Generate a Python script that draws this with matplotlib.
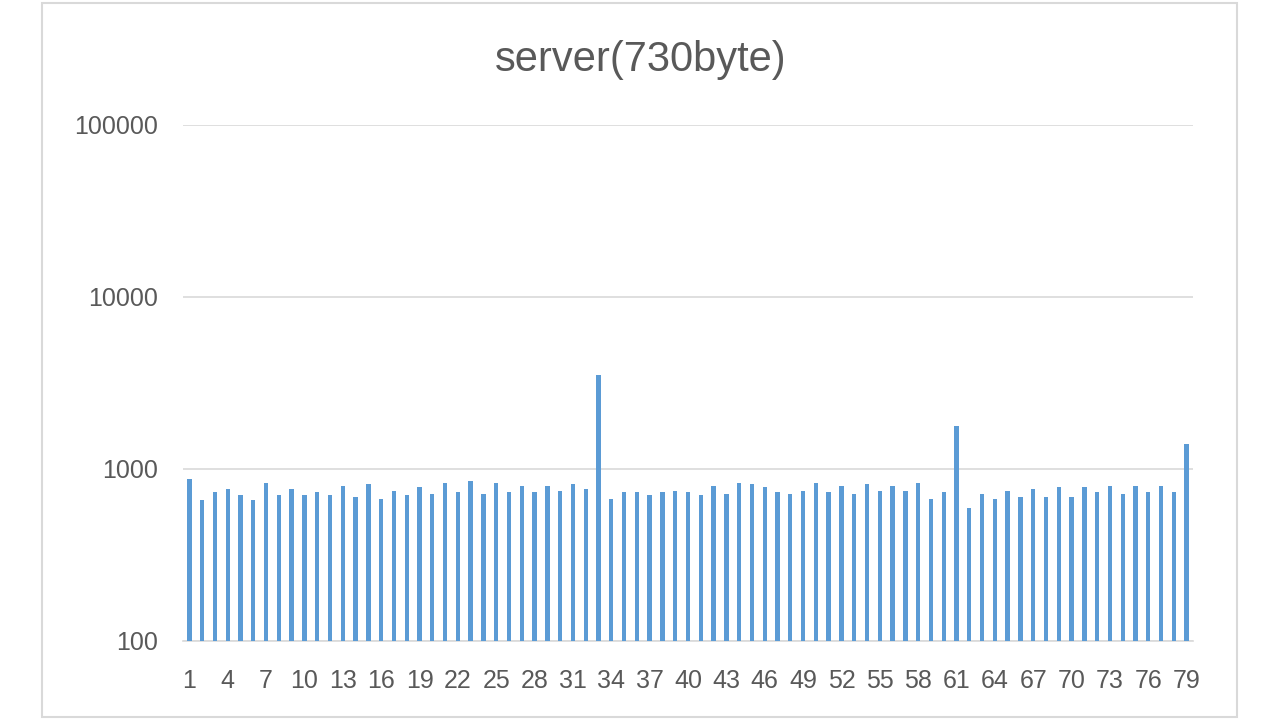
import matplotlib
matplotlib.use("Agg")
import matplotlib.pyplot as plt
from matplotlib.patches import Rectangle

categories = list(range(1, 80))
values = [871, 660, 732, 765, 703, 660, 832, 703, 765, 703,
          732, 703, 800, 687, 818, 672, 748, 703, 783, 718,
          832, 732, 852, 718, 832, 732, 800, 732, 800, 748,
          818, 765, 3520, 672, 732, 732, 703, 732, 748, 732,
          703, 800, 718, 832, 818, 783, 732, 718, 748, 832,
          732, 800, 718, 818, 748, 800, 748, 832, 672, 732,
          1780, 591, 718, 672, 748, 687, 765, 687, 783, 687,
          783, 735, 800, 718, 800, 735, 800, 735, 1392]
xtick_labels = [str(c) for c in categories[::3]]
ytick_values = [100, 1000, 10000, 100000]
ytick_labels = ["100", "1000", "10000", "100000"]
title = "server(730byte)"

plt.rcParams['font.family'] = ['Liberation Sans', 'DejaVu Sans']
gray = "#595959"

fig = plt.figure(figsize=(12.8, 7.2), dpi=100)
ax = fig.add_axes([183/1280, (720-641)/720, (1193-183)/1280, (641-125)/720])

ax.bar(categories, values, width=0.34, color="#5B9BD5", zorder=3)
ax.set_yscale("log")
ax.set_ylim(100, 100000)
ax.set_xlim(0.5, 79.5)
ax.set_yticks(ytick_values)
ax.set_yticklabels(ytick_labels)
ax.minorticks_off()
ax.set_xticks(categories[::3])
ax.set_xticklabels(xtick_labels)
ax.tick_params(axis="both", length=0, labelsize=18, labelcolor=gray)
ax.tick_params(axis="y", pad=18)
ax.tick_params(axis="x", pad=20)
ax.grid(axis="y", color="#D9D9D9", linewidth=1.2, zorder=0)
for s in ["top", "right", "left"]:
    ax.spines[s].set_visible(False)
ax.spines["bottom"].set_color("#D9D9D9")
ax.spines["bottom"].set_linewidth(1.2)

fig.text(641/1280, 1 - 60/720, title, ha="center", va="center", fontsize=30, color=gray)

fig.patches.append(Rectangle((42/1280, 3/720), (1237-42)/1280, (717-3)/720,
                             transform=fig.transFigure, fill=False,
                             edgecolor="#D9D9D9", linewidth=1.5))

fig.savefig("out.png", dpi=100)
